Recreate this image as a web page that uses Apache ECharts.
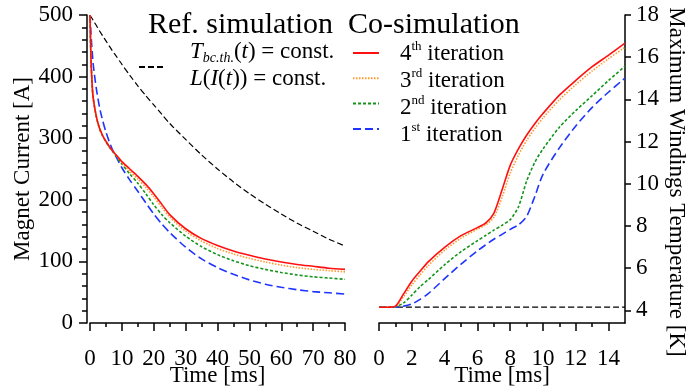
<!DOCTYPE html>
<html>
<head>
<meta charset="utf-8">
<script src="https://cdn.jsdelivr.net/npm/echarts@6/dist/echarts.min.js"></script>
<style>html,body{margin:0;padding:0;background:#fff}#chart{width:695px;height:390px}</style>
</head>
<body>
<div id="chart"></div>
<script>
const FONT = 'Liberation Serif';

// left panel: magnet current [A] over time [ms]
const timeL = [0, 0.3, 0.7, 1, 2, 3, 4, 5, 6, 7, 8, 10, 12.5, 15, 17.5, 20, 22.5, 25, 30, 35, 40, 45, 50, 55, 60, 65, 70, 75, 80];
const refCurrent = [500, 497, 494, 491, 483, 474, 466, 458, 450, 442, 435, 420, 402, 385, 369, 354, 339, 324, 298, 273, 250, 229, 210, 193, 177, 162, 149, 136, 125];
const it4Current = [500, 430, 385, 366, 335, 316, 304, 295, 287, 280, 274, 262, 250, 238, 225, 210, 193, 176, 153, 137, 126, 117, 110, 104, 99, 95, 92, 89, 87];
const it3Current = [500, 430, 385, 366, 335, 316, 304, 295, 287, 280, 274, 260, 246, 234, 220, 205, 188, 172, 149, 133, 121, 112, 105, 99, 94, 90, 87, 85, 83];
const it2Current = [500, 428, 383, 364, 334, 315, 303, 294, 286, 279, 272, 258, 242, 227, 210, 192, 176, 163, 141, 124, 111, 101, 93, 87, 82, 78, 75, 73, 71];
const it1Current = [500, 470, 440, 420, 380, 350, 328, 310, 295, 282, 272, 252, 232, 214, 195, 177, 161, 147, 123, 104, 90, 79, 70, 63, 58, 54, 51, 49, 47];

// right panel: max windings temperature [K] over time [ms]
const timeR = [0, 0.5, 1, 1.5, 2, 2.5, 3, 4, 5, 6, 6.5, 7, 7.5, 8, 8.5, 9, 9.5, 10, 11, 12, 13, 14, 15];
const it4Temp = [4.15, 4.15, 4.2, 4.78, 5.38, 5.85, 6.3, 6.99, 7.54, 7.92, 8.13, 8.6, 9.7, 10.87, 11.65, 12.3, 12.85, 13.33, 14.2, 14.9, 15.55, 16.1, 16.67];
const it3Temp = [4.15, 4.15, 4.18, 4.65, 5.2, 5.68, 6.12, 6.85, 7.42, 7.85, 8.05, 8.4, 9.35, 10.5, 11.35, 12.05, 12.62, 13.12, 13.98, 14.7, 15.35, 15.93, 16.47];
const it2Temp = [4.15, 4.15, 4.17, 4.35, 4.72, 5.12, 5.45, 6.16, 6.78, 7.3, 7.55, 7.8, 8.03, 8.3, 8.9, 10.12, 11.02, 11.65, 12.68, 13.47, 14.18, 14.9, 15.57];
const it1Temp = [4.15, 4.15, 4.15, 4.2, 4.3, 4.52, 4.79, 5.5, 6.19, 6.82, 7.1, 7.37, 7.6, 7.84, 8.05, 8.45, 9.4, 10.45, 11.7, 12.74, 13.62, 14.35, 15.01];
const refTimeR = [0, 15];
const refTemp = [4.15, 4.15];

// ticks
const ticksTempR = [4, 6, 8, 10, 12, 14, 16, 18];
const ticksTimeR = [0, 2, 4, 6, 8, 10, 12, 14];
const minorTimeR = [1, 3, 5, 7, 9, 11, 13];

const REF = 'ref';
const iterNames = ['4th iteration', '3rd iteration', '2nd iteration', '1st iteration'];
const iterLabels = [['4', 'th'], ['3', 'rd'], ['2', 'nd'], ['1', 'st']];

const styles = {
  [REF]: {color: '#000', type: [6, 3], width: 1.2},
  '4th iteration': {color: '#ff1010', type: 'solid', width: 1.6},
  '3rd iteration': {color: '#ff9a2e', type: [1.5, 1.5], width: 1.6},
  '2nd iteration': {color: '#12961a', type: [3, 2], width: 1.6},
  '1st iteration': {color: '#1f35ff', type: [8, 4], width: 1.6},
};

const zip = (xs, ys) => xs.map((x, i) => [x, ys[i]]);

function line(name, xs, ys, gi) {
  const s = styles[name];
  return {
    name, type: 'line', xAxisIndex: gi, yAxisIndex: gi,
    data: zip(xs, ys), symbol: 'none', smooth: 0.25,
    color: s.color, lineStyle: {color: s.color, type: s.type, width: s.width},
    z: name === REF ? 1 : 2, silent: true,
  };
}

const axisTxt = {fontFamily: FONT, fontSize: 23, color: '#000'};
const axisLine = {show: true, onZero: false, lineStyle: {color: '#000', width: 1.5}};
const tickStyle = {color: '#000', width: 1.5};

// rich text tokens for legend labels (drawn as graphic text)
const serif = (size, italic) => (italic ? 'italic ' : '') + size + 'px "Liberation Serif"';
const rich = {
  n: {font: serif(23), fill: '#000', lineHeight: 27},
  i: {font: serif(23, true), fill: '#000', lineHeight: 27},
  sub: {font: serif(14, true), fill: '#000', lineHeight: 27, verticalAlign: 'bottom'},
  s: {font: serif(13), fill: '#000', lineHeight: 27, verticalAlign: 'top'},
};
const refText = '{i|T}{sub|bc.th.}{n|(}{i|t}{n|) = const.}\n{i|L}{n|(}{i|I}{n|(}{i|t}{n|)) = const.}';
const iterText = iterLabels.map(([d, s]) => '{n|' + d + '}{s|' + s + '}{n| iteration}').join('\n');

const chart = echarts.init(document.getElementById('chart'));
chart.setOption({
  animation: false,
  textStyle: {fontFamily: FONT},
  grid: [
    {left: 90, right: 350, top: 15, bottom: 67, outerBoundsMode: 'none'},
    {left: 379, right: 70, top: 15, bottom: 67, outerBoundsMode: 'none'},
  ],
  xAxis: [
    {
      gridIndex: 0, type: 'value', min: 0, max: 80, interval: 10,
      name: 'Time [ms]', nameLocation: 'middle', nameGap: 41, nameMoveOverlap: false, nameTextStyle: axisTxt,
      axisLine, axisTick: {length: 8, lineStyle: tickStyle},
      minorTick: {show: true, splitNumber: 2, length: 4, lineStyle: tickStyle},
      axisLabel: {...axisTxt, margin: 24}, splitLine: {show: false},
    },
    {
      gridIndex: 1, type: 'value', min: 0, max: 15,
      name: 'Time [ms]', nameLocation: 'middle', nameGap: 41, nameMoveOverlap: false, nameTextStyle: axisTxt,
      axisLine, axisTick: {length: 8, customValues: ticksTimeR, lineStyle: tickStyle},
      axisLabel: {...axisTxt, margin: 24, customValues: ticksTimeR}, splitLine: {show: false},
    },
    {
      gridIndex: 1, type: 'value', min: 0, max: 15, position: 'bottom',
      axisLine: {show: false, onZero: false}, axisLabel: {show: false}, splitLine: {show: false},
      axisTick: {length: 4, customValues: minorTimeR, lineStyle: tickStyle},
    },
  ],
  yAxis: [
    {
      gridIndex: 0, type: 'value', min: 0, max: 500, interval: 100, offset: 3,
      name: 'Magnet Current [A]', nameLocation: 'middle', nameGap: 53, nameMoveOverlap: false, nameTextStyle: axisTxt,
      axisLine, axisTick: {length: 8, lineStyle: tickStyle},
      minorTick: {show: true, splitNumber: 5, length: 5, lineStyle: tickStyle},
      axisLabel: {...axisTxt, margin: 14}, splitLine: {show: false},
    },
    {
      gridIndex: 1, type: 'value', min: 3.4, max: 18, position: 'right',
      name: 'Maximum Windings Temperature [K]', nameLocation: 'middle', nameRotate: -90, nameGap: 40,
      nameMoveOverlap: false, nameTextStyle: {...axisTxt, padding: [0, 0, 0, 26]},
      axisLine, axisTick: {length: 6, customValues: ticksTempR, lineStyle: tickStyle},
      axisLabel: {...axisTxt, margin: 11, customValues: ticksTempR}, splitLine: {show: false},
    },
  ],
  legend: [
    {
      data: [REF], left: 138, top: 60, padding: 0, selectedMode: false,
      itemWidth: 25, itemHeight: 14, itemStyle: {opacity: 0}, formatter: () => '',
    },
    {
      data: iterNames, orient: 'vertical', left: 352, top: 46, padding: 0, itemGap: 12.7,
      selectedMode: false, itemWidth: 26, itemHeight: 14, itemStyle: {opacity: 0}, formatter: () => '',
    },
  ],
  graphic: [
    {type: 'text', left: 148, top: 10, style: {text: 'Ref. simulation', font: serif(30), fill: '#000'}},
    {type: 'text', left: 348, top: 10, style: {text: 'Co-simulation', font: serif(30), fill: '#000'}},
    {type: 'text', left: 190, top: 40, style: {text: refText, rich, font: serif(23), fill: '#000'}},
    {type: 'text', left: 400, top: 40, style: {text: iterText, rich, font: serif(23), fill: '#000'}},
  ],
  series: [
    line(REF, timeL, refCurrent, 0),
    line('1st iteration', timeL, it1Current, 0),
    line('2nd iteration', timeL, it2Current, 0),
    line('3rd iteration', timeL, it3Current, 0),
    line('4th iteration', timeL, it4Current, 0),
    line(REF, refTimeR, refTemp, 1),
    line('1st iteration', timeR, it1Temp, 1),
    line('2nd iteration', timeR, it2Temp, 1),
    line('3rd iteration', timeR, it3Temp, 1),
    line('4th iteration', timeR, it4Temp, 1),
  ],
});
</script>
</body>
</html>
